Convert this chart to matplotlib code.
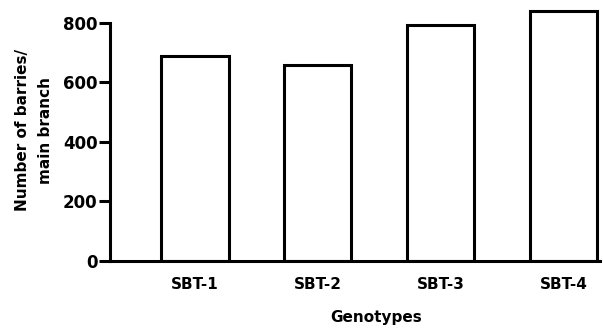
import matplotlib
matplotlib.use("Agg")
import matplotlib.pyplot as plt

genotypes = ["SBT-1", "SBT-2", "SBT-3", "SBT-4"]
berries = [689, 658, 793, 840]
yticks = [0, 200, 400, 600, 800]

plt.rcParams["font.family"] = ["DejaVu Sans"]
plt.rcParams["font.weight"] = "bold"
plt.rcParams["axes.labelweight"] = "bold"

fig = plt.figure(figsize=(6.03, 3.28), dpi=100)
ax = fig.add_axes([0.1824, 0.2052, 0.813, 0.789])

x = list(range(len(genotypes)))
ax.bar(x, berries, width=0.55, facecolor="white", edgecolor="black", linewidth=2.2)

ax.set_xlim(-0.69, 3.3)
ax.set_ylim(0, 870)
ax.set_xticks(x)
ax.set_xticklabels(genotypes, fontsize=11)
ax.set_yticks(yticks)
ax.tick_params(axis="y", length=8, width=2.2, labelsize=12, pad=1)
ax.tick_params(axis="x", length=0, pad=12)

for s in ["top", "right"]:
    ax.spines[s].set_visible(False)
for s in ["left", "bottom"]:
    ax.spines[s].set_linewidth(2.2)
ax.spines["left"].set_bounds(0, 800)

ax.set_xlabel("Genotypes", fontsize=11)
ax.xaxis.set_label_coords(0.543, -0.19)
ax.set_ylabel("Number of barries/\nmain branch", fontsize=11, linespacing=1.7)
ax.yaxis.set_label_coords(-0.116, 0.505)

fig.savefig("out.png", dpi=100)
